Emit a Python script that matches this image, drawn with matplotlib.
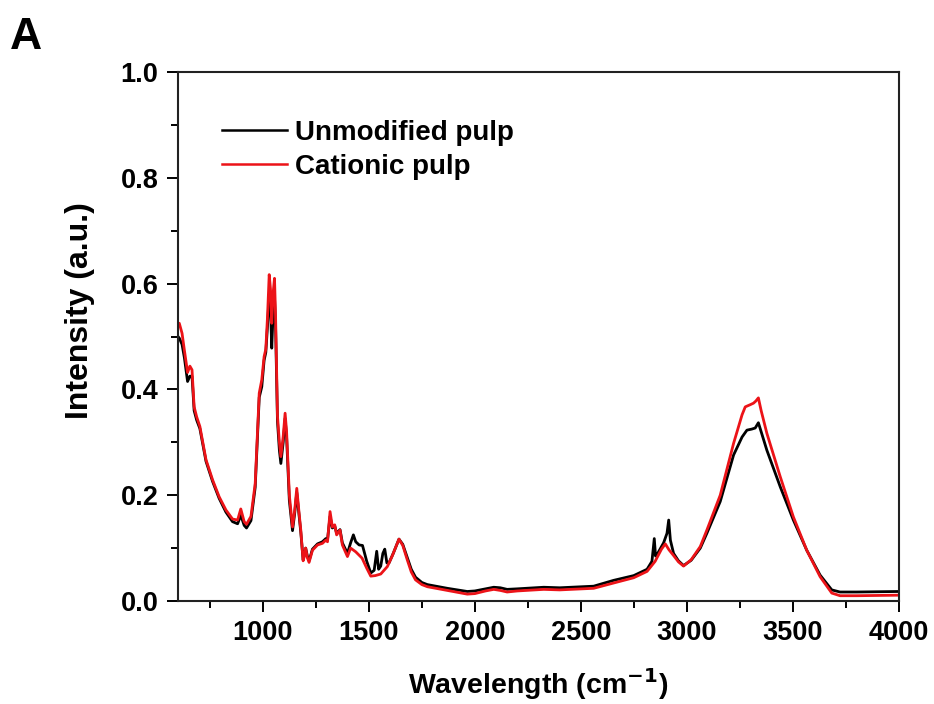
import matplotlib

matplotlib.use("Agg")
import matplotlib.pyplot as plt
from matplotlib.ticker import MultipleLocator

plt.rcParams["font.family"] = ["Liberation Sans", "DejaVu Sans"]
plt.rcParams["font.weight"] = "bold"
plt.rcParams["mathtext.default"] = "bf"

# FTIR spectra, wavenumber (cm-1) vs intensity
wn_unmod = [
    600, 606, 619, 630, 645, 656, 666, 676, 688, 703, 732, 763, 794, 826, 857,
    881, 896, 912, 923, 944, 964, 983, 995, 1006, 1014, 1022, 1030, 1036, 1042,
    1048, 1055, 1060, 1069, 1078, 1085, 1096, 1105, 1112, 1125, 1140, 1150,
    1160, 1170, 1179, 1190, 1196, 1202, 1210, 1218, 1234, 1258, 1281, 1297,
    1305, 1317, 1328, 1339, 1348, 1364, 1375, 1399, 1414, 1427, 1438, 1454,
    1470, 1490, 1509, 1525, 1537, 1546, 1556, 1566, 1575, 1585, 1595, 1615,
    1642, 1660, 1681, 1700, 1720, 1750, 1776, 1870, 1964, 2000, 2050, 2089,
    2120, 2152, 2200, 2325, 2400, 2560, 2654, 2749, 2812, 2835, 2846, 2852,
    2862, 2890, 2906, 2914, 2922, 2937, 2960, 2984, 3020, 3063, 3094, 3157,
    3220, 3260, 3283, 3306, 3322, 3337, 3350, 3377, 3440, 3502, 3565, 3628,
    3683, 3722, 3800, 4000,
]
int_unmod = [
    0.500, 0.497, 0.485, 0.460, 0.415, 0.425, 0.425, 0.360, 0.342, 0.326,
    0.264, 0.226, 0.194, 0.168, 0.150, 0.146, 0.162, 0.143, 0.138, 0.152,
    0.215, 0.385, 0.405, 0.455, 0.470, 0.520, 0.580, 0.560, 0.478, 0.540,
    0.575, 0.520, 0.340, 0.285, 0.260, 0.300, 0.345, 0.310, 0.190, 0.133,
    0.165, 0.205, 0.165, 0.130, 0.078, 0.088, 0.100, 0.085, 0.076, 0.098,
    0.108, 0.112, 0.118, 0.116, 0.160, 0.138, 0.142, 0.128, 0.135, 0.110,
    0.090, 0.110, 0.125, 0.112, 0.106, 0.105, 0.075, 0.053, 0.058, 0.094,
    0.060, 0.066, 0.090, 0.098, 0.072, 0.072, 0.090, 0.117, 0.107, 0.082,
    0.060, 0.045, 0.035, 0.031, 0.024, 0.018, 0.019, 0.023, 0.026, 0.025,
    0.022, 0.023, 0.026, 0.025, 0.028, 0.039, 0.048, 0.060, 0.075, 0.118,
    0.085, 0.090, 0.110, 0.128, 0.153, 0.115, 0.090, 0.076, 0.067, 0.077,
    0.100, 0.128, 0.188, 0.276, 0.310, 0.323, 0.325, 0.327, 0.337, 0.320,
    0.285, 0.216, 0.153, 0.096, 0.049, 0.021, 0.017, 0.017, 0.018,
]

wn_cat = [
    600, 606, 619, 630, 645, 656, 666, 676, 688, 703, 732, 763, 794, 826, 857,
    881, 896, 912, 923, 944, 964, 983, 995, 1006, 1014, 1022, 1030, 1036, 1042,
    1048, 1055, 1060, 1069, 1078, 1085, 1096, 1105, 1112, 1125, 1140, 1150,
    1160, 1170, 1179, 1190, 1196, 1202, 1210, 1218, 1234, 1258, 1281, 1297,
    1305, 1317, 1328, 1339, 1348, 1364, 1375, 1399, 1414, 1438, 1468, 1490,
    1509, 1530, 1556, 1587, 1610, 1642, 1660, 1681, 1700, 1720, 1750, 1776,
    1870, 1964, 2000, 2050, 2089, 2120, 2152, 2200, 2325, 2400, 2560, 2654,
    2749, 2812, 2850, 2880, 2898, 2915, 2937, 2960, 2984, 3020, 3063, 3094,
    3157, 3220, 3260, 3275, 3298, 3314, 3325, 3337, 3350, 3377, 3440, 3502,
    3565, 3628, 3683, 3722, 3800, 4000,
]
int_cat = [
    0.525, 0.525, 0.506, 0.474, 0.432, 0.444, 0.437, 0.367, 0.348, 0.330,
    0.267, 0.229, 0.197, 0.172, 0.155, 0.153, 0.174, 0.150, 0.145, 0.160,
    0.222, 0.393, 0.418, 0.462, 0.476, 0.537, 0.617, 0.590, 0.525, 0.580,
    0.610, 0.540, 0.350, 0.300, 0.273, 0.311, 0.355, 0.320, 0.200, 0.140,
    0.170, 0.213, 0.170, 0.134, 0.076, 0.085, 0.100, 0.082, 0.073, 0.096,
    0.106, 0.109, 0.115, 0.112, 0.169, 0.140, 0.144, 0.125, 0.134, 0.106,
    0.084, 0.100, 0.093, 0.081, 0.062, 0.047, 0.048, 0.051, 0.065, 0.085,
    0.117, 0.105, 0.078, 0.055, 0.040, 0.031, 0.027, 0.020, 0.013, 0.014,
    0.019, 0.022, 0.020, 0.017, 0.019, 0.022, 0.021, 0.024, 0.034, 0.044,
    0.056, 0.075, 0.098, 0.108, 0.097, 0.086, 0.074, 0.066, 0.078, 0.103,
    0.134, 0.200, 0.298, 0.352, 0.367, 0.371, 0.374, 0.378, 0.384, 0.360,
    0.317, 0.235, 0.159, 0.096, 0.046, 0.015, 0.010, 0.010, 0.011,
]

fig = plt.figure(figsize=(9.34, 7.04), dpi=100)
ax = fig.add_axes([0.1906, 0.1463, 0.7719, 0.7514])

ax.plot(wn_unmod, int_unmod, color="black", lw=2.0, label="Unmodified pulp")
ax.plot(wn_cat, int_cat, color="#ec1318", lw=2.0, label="Cationic pulp")

ax.set_xlim(600, 4000)
ax.set_ylim(0.0, 1.0)
ax.xaxis.set_minor_locator(MultipleLocator(250))
ax.yaxis.set_minor_locator(MultipleLocator(0.1))
ax.set_xticks([1000, 1500, 2000, 2500, 3000, 3500, 4000])
ax.set_yticks([0.0, 0.2, 0.4, 0.6, 0.8, 1.0])
ax.set_yticklabels(["0.0", "0.2", "0.4", "0.6", "0.8", "1.0"])
ax.tick_params(which="major", direction="out", length=8, width=1.4,
               labelsize=19.5, pad=6)
ax.tick_params(which="minor", direction="out", length=5, width=1.4)
for spine in ax.spines.values():
    spine.set_linewidth(1.5)
    spine.set_color("#222222")

ax.set_xlabel("Wavelength (cm$^{-1}$)", fontsize=20.5, fontweight="bold",
              labelpad=14)
ax.set_ylabel("Intensity (a.u.)", fontsize=23, fontweight="bold")
ax.yaxis.set_label_coords(-0.115, 0.55)

leg = ax.legend(loc="upper left", bbox_to_anchor=(0.045, 0.93), frameon=False,
                fontsize=20, handlelength=2.35, handletextpad=0.3,
                labelspacing=0.28, borderaxespad=0)
for line in leg.get_lines():
    line.set_linewidth(1.8)

fig.text(0.011, 0.93, "A", fontsize=32, fontweight="bold")

fig.savefig("out.png", dpi=100)
